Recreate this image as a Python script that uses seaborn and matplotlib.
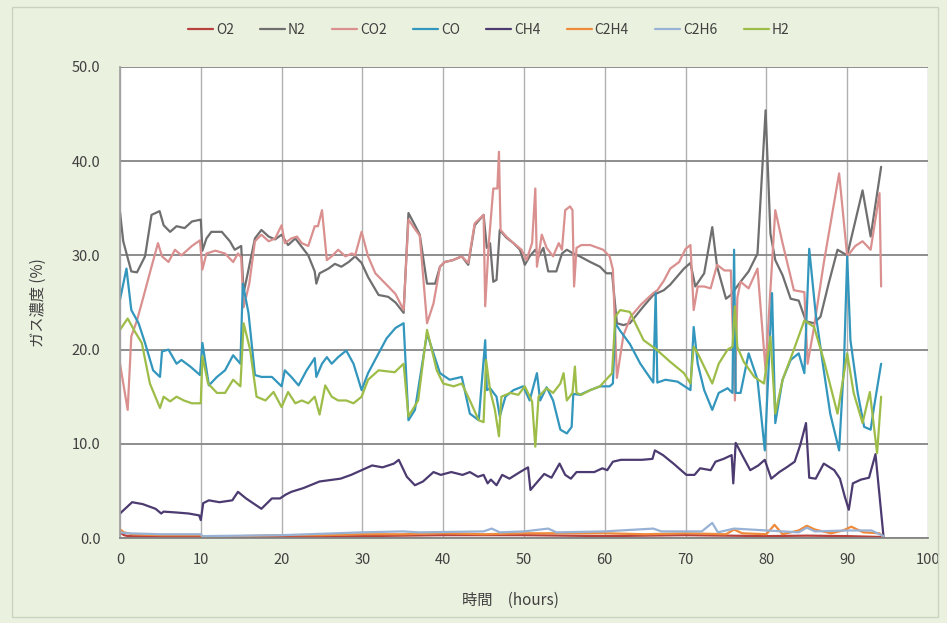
import matplotlib
matplotlib.use("Agg")
import matplotlib.pyplot as plt
from matplotlib.patches import Rectangle
from matplotlib.ticker import FormatStrFormatter, MultipleLocator
import numpy as np
import pandas as pd
import seaborn as sns

# ---- gas concentration readings (time in hours, concentration in %) ----
gases = ["O2", "N2", "CO2", "CO", "CH4", "C2H4", "C2H6", "H2"]

t_O2 = [0.0, 0.5, 1.0, 5.0, 10.0, 10.2, 15.0, 20.0, 25.0, 30.0, 35.0, 40.0, 45.0,
        50.0, 55.0, 60.0, 65.0, 70.0, 75.0, 80.0, 85.0, 90.0, 94.5]
O2 = [0.6, 0.3, 0.2, 0.15, 0.1, 0.05, 0.1, 0.1, 0.15, 0.2, 0.25, 0.3, 0.3,
      0.3, 0.25, 0.2, 0.25, 0.3, 0.25, 0.2, 0.25, 0.2, 0.1]

t_N2 = [0.0, 0.4, 1.4, 2.1, 3.1, 3.9, 4.9, 5.4, 6.2, 7.0, 8.0, 8.9, 10.0, 10.2, 10.7,
        11.3, 12.6, 13.6, 14.2, 15.0, 15.3, 16.7, 17.5, 18.4, 19.2, 20.0, 20.8, 21.7,
        22.5, 23.3, 24.1, 24.3, 24.7, 25.8, 26.6, 27.4, 28.3, 29.1, 29.9, 30.7, 32.0,
        33.2, 34.1, 35.1, 35.7, 36.5, 37.1, 38.0, 39.0, 39.6, 40.2, 41.2, 42.3, 43.1,
        43.9, 45.0, 45.4, 45.8, 46.2, 46.6, 47.0, 47.8, 48.7, 49.5, 50.1, 50.7, 51.4,
        51.8, 52.4, 53.0, 54.0, 54.7, 55.3, 56.1, 56.9, 58.2, 59.4, 60.2, 60.9, 61.5,
        62.3, 63.1, 64.8, 66.0, 67.3, 68.1, 69.8, 70.6, 71.2, 72.3, 73.3, 73.9, 75.0,
        75.6, 76.8, 77.8, 78.9, 79.9, 80.5, 81.1, 82.0, 83.0, 84.0, 84.9, 85.9, 86.7,
        87.7, 88.8, 90.0, 91.9, 92.9, 94.2]
N2 = [34.6, 31.5, 28.3, 28.2, 29.9, 34.3, 34.7, 33.2, 32.5, 33.1, 32.9, 33.6, 33.8, 30.5,
      31.8, 32.5, 32.5, 31.5, 30.6, 31.0, 26.0, 31.8, 32.7, 32.0, 31.7, 32.2, 31.1, 31.8,
      30.9, 30.0, 28.3, 27.0, 28.1, 28.6, 29.1, 28.8, 29.3, 29.9, 29.2, 27.7, 25.8,
      25.6, 25.0, 23.9, 34.5, 33.2, 32.2, 27.0, 27.0, 28.8, 29.3, 29.5, 29.9, 29.0,
      33.2, 34.3, 30.8, 31.3, 27.2, 27.4, 32.7, 31.9, 31.3, 30.6, 29.0, 29.9, 30.6,
      29.9, 30.8, 28.3, 28.3, 30.2, 30.6, 30.2, 29.9, 29.3, 28.8, 28.1, 28.1, 22.8,
      22.6, 22.8, 24.6, 25.8, 26.3, 26.9, 28.6, 29.2, 26.7, 28.1, 33.0, 28.8, 25.4,
      25.8, 27.2, 28.3, 30.2, 45.4, 32.3, 29.5, 27.9, 25.4, 25.2, 23.0, 22.8, 23.5,
      27.0, 30.6, 30.0, 36.9, 32.0, 39.4]

t_CO2 = [0.0, 0.95, 1.4, 2.1, 2.9, 3.9, 4.7, 5.2, 6.0, 6.8, 7.6, 8.9, 9.9, 10.2, 10.7,
         11.8, 13.0, 14.0, 14.6, 15.0, 15.3, 16.0, 16.7, 17.5, 18.4, 19.2, 20.0, 20.4,
         21.2, 21.9, 22.5, 23.3, 24.1, 24.5, 25.0, 25.6, 26.2, 27.0, 27.9, 28.7, 29.1,
         29.9, 30.7, 31.6, 32.4, 33.2, 34.1, 35.1, 35.7, 36.5, 37.1, 38.0, 38.8, 39.6,
         40.2, 41.2, 42.3, 43.1, 43.9, 45.0, 45.2, 45.6, 46.2, 46.7, 46.9, 47.1, 47.8,
         48.7, 49.7, 50.3, 51.0, 51.4, 51.6, 52.2, 52.8, 53.6, 54.3, 54.7, 55.1, 55.7,
         56.0, 56.2, 56.5, 57.1, 58.2, 59.8, 60.6, 61.0, 61.5, 62.3, 63.2, 64.5, 66.0,
         66.5, 67.3, 68.1, 69.2, 70.0, 70.6, 71.0, 71.5, 72.3, 73.1, 73.9, 74.8, 75.6,
         76.1, 76.4, 76.8, 77.8, 78.9, 79.9, 80.4, 81.1, 82.0, 83.4, 84.7, 85.1, 85.9,
         87.1, 89.0, 90.0, 91.0, 91.9, 92.9, 94.0, 94.2]
CO2 = [18.5, 13.6, 21.4, 23.1, 25.6, 28.8, 31.3, 29.9, 29.3, 30.6, 30.0, 31.0, 31.6, 28.5,
       30.2, 30.5, 30.2, 29.3, 30.2, 29.8, 24.5, 27.0, 31.5, 32.2, 31.5, 31.8, 33.2, 31.3,
       31.8, 32.0, 31.3, 31.0, 33.1, 33.1, 34.8, 29.5, 29.9, 30.6, 29.9, 30.2, 30.0,
       32.5, 29.9, 28.1, 27.4, 26.7, 25.9, 24.2, 33.8, 32.8, 32.1, 22.8, 24.9, 28.8,
       29.3, 29.5, 29.9, 29.2, 33.4, 34.3, 24.6, 30.8, 37.1, 37.1, 41.0, 32.7, 32.0,
       31.3, 30.6, 29.5, 31.3, 37.1, 28.8, 32.2, 30.8, 29.9, 31.3, 30.6, 34.8, 35.2,
       34.8, 26.7, 30.8, 31.1, 31.1, 30.6, 29.9, 28.5, 17.0, 21.5, 23.5, 24.8, 26.0,
       26.3, 27.3, 28.6, 29.3, 30.7, 31.1, 24.2, 26.7, 26.7, 26.5, 29.0, 28.4, 28.4,
       14.6, 25.5, 27.2, 26.5, 28.6, 17.8, 25.0, 34.8, 31.3, 26.3, 26.1, 18.5, 22.4,
       29.2, 38.7, 29.9, 31.0, 31.5, 30.6, 36.6, 26.7]

t_CO = [0.0, 0.8, 1.4, 2.3, 3.1, 4.1, 4.95, 5.2, 6.0, 7.0, 7.6, 8.7, 9.9, 10.2, 11.0,
        12.0, 13.0, 14.0, 14.9, 15.2, 15.9, 16.7, 17.5, 18.8, 20.0, 20.4, 21.2, 22.1,
        23.1, 24.1, 24.3, 25.0, 25.6, 26.2, 27.0, 28.0, 28.9, 29.9, 30.7, 32.0, 33.0,
        34.1, 35.1, 35.7, 36.5, 38.0, 39.6, 40.8, 42.3, 43.3, 44.4, 45.2, 45.4, 45.8,
        46.6, 47.0, 47.7, 48.7, 49.9, 50.7, 51.6, 52.0, 52.8, 53.6, 54.5, 55.3, 55.9,
        56.1, 56.9, 58.2, 59.4, 60.6, 61.0, 61.3, 61.9, 63.1, 64.4, 66.0, 66.3, 66.5,
        67.5, 69.0, 70.6, 71.0, 71.5, 72.3, 73.3, 74.1, 75.2, 75.8, 76.0, 76.2, 76.8,
        77.8, 78.9, 79.8, 80.7, 81.1, 82.0, 83.0, 84.0, 84.7, 85.3, 86.1, 87.1, 87.9,
        89.0, 89.6, 90.0, 90.4, 91.3, 92.1, 92.9, 93.3, 94.2]
CO = [25.3, 28.6, 24.2, 22.8, 20.7, 17.8, 17.1, 19.8, 20.0, 18.5, 18.9, 18.2, 17.3, 20.7,
      16.2, 17.1, 17.8, 19.4, 18.5, 27.0, 23.9, 17.3, 17.1, 17.1, 16.1, 17.8, 17.1, 16.2,
      17.8, 19.1, 17.1, 18.5, 19.2, 18.5, 19.2, 19.9, 18.5, 15.7, 17.5, 19.6, 21.2,
      22.3, 22.8, 12.5, 13.6, 21.7, 17.5, 16.8, 17.1, 13.2, 12.5, 21.0, 15.7, 15.9,
      15.0, 12.9, 15.0, 15.7, 16.1, 14.6, 17.5, 14.6, 16.0, 14.6, 11.5, 11.1, 11.8,
      15.3, 15.2, 15.7, 16.1, 16.1, 16.4, 22.8, 22.0, 20.6, 18.5, 16.5, 26.0, 16.5,
      16.8, 16.6, 15.7, 22.4, 18.5, 15.7, 13.6, 15.4, 15.9, 15.4, 30.6, 15.4, 15.4,
      19.6, 16.8, 9.3, 26.0, 12.2, 16.8, 18.9, 19.6, 17.5, 30.7, 23.8, 17.8, 13.2,
      9.3, 18.5, 29.9, 21.0, 15.4, 11.8, 11.5, 13.8, 18.5]

t_CH4 = [0.0, 1.5, 2.8, 4.4, 5.1, 5.4, 7.1, 8.5, 9.8, 10.0, 10.3, 11.0, 12.3, 13.9, 14.6,
         15.6, 17.5, 18.8, 19.8, 20.5, 21.2, 22.7, 24.7, 27.3, 28.6, 29.9, 31.2, 32.5,
         33.9, 34.5, 35.5, 36.5, 37.5, 38.8, 39.7, 41.0, 42.4, 43.3, 44.3, 45.0, 45.5,
         45.9, 46.6, 47.3, 48.2, 49.5, 50.5, 50.8, 51.5, 52.5, 53.4, 54.4, 55.1, 55.8,
         56.5, 57.4, 58.7, 59.7, 60.3, 61.0, 62.0, 63.3, 64.6, 65.9, 66.2, 67.2, 68.5,
         70.1, 71.1, 71.8, 73.1, 73.7, 74.7, 75.7, 75.9, 76.2, 77.0, 78.0, 79.0, 79.8,
         80.6, 81.6, 82.5, 83.5, 84.2, 84.9, 85.3, 86.1, 87.1, 88.4, 89.1, 89.7, 90.2,
         90.7, 91.7, 92.7, 93.5, 94.5]
CH4 = [2.6, 3.8, 3.6, 3.1, 2.6, 2.8, 2.7, 2.6, 2.4, 1.9, 3.7, 4.0, 3.8, 4.0, 4.9,
       4.2, 3.1, 4.2, 4.2, 4.6, 4.9, 5.3, 6.0, 6.3, 6.7, 7.2, 7.7, 7.5,
       7.9, 8.3, 6.5, 5.6, 6.0, 7.0, 6.7, 7.0, 6.7, 7.0, 6.5, 6.7, 5.8,
       6.2, 5.6, 6.7, 6.3, 7.0, 7.5, 5.1, 5.8, 6.8, 6.4, 7.9, 6.7, 6.3,
       7.0, 7.0, 7.0, 7.4, 7.2, 8.1, 8.3, 8.3, 8.3, 8.4, 9.3, 8.8, 7.9,
       6.7, 6.7, 7.4, 7.2, 8.1, 8.4, 8.8, 5.8, 10.1, 8.8, 7.2, 7.7, 8.3,
       6.3, 7.0, 7.5, 8.1, 9.9, 12.2, 6.4, 6.3, 7.9, 7.2, 6.3, 4.4, 3.0,
       5.8, 6.2, 6.4, 8.9, 0.1]

t_C2H4 = [0.0, 0.5, 1.5, 5.0, 10.0, 10.2, 15.0, 20.0, 25.0, 30.0, 35.0, 40.0, 45.0,
          50.0, 55.0, 60.0, 65.0, 70.0, 75.0, 76.0, 77.0, 80.0, 81.0, 82.0, 84.0,
          85.0, 86.0, 88.0, 89.5, 90.5, 92.0, 94.0, 94.5]
C2H4 = [0.9, 0.6, 0.4, 0.3, 0.3, 0.1, 0.2, 0.3, 0.3, 0.4, 0.4, 0.5, 0.4,
        0.5, 0.5, 0.5, 0.4, 0.5, 0.4, 0.9, 0.5, 0.4, 1.4, 0.4, 0.8,
        1.3, 0.9, 0.5, 0.8, 1.2, 0.6, 0.5, 0.1]

t_C2H6 = [0.0, 1.0, 5.0, 10.0, 10.2, 20.0, 30.0, 35.0, 37.0, 45.0, 46.0, 47.0, 50.0,
          53.0, 54.0, 60.0, 62.0, 66.0, 67.0, 72.0, 73.3, 74.0, 76.0, 80.0, 84.0,
          85.0, 86.0, 90.0, 93.0, 94.5]
C2H6 = [0.6, 0.5, 0.4, 0.4, 0.2, 0.3, 0.6, 0.7, 0.6, 0.7, 1.0, 0.6, 0.7,
        1.0, 0.6, 0.7, 0.8, 1.0, 0.7, 0.7, 1.6, 0.6, 1.0, 0.8, 0.6,
        1.1, 0.7, 0.8, 0.8, 0.2]

t_H2 = [0.0, 0.95, 1.85, 2.7, 3.7, 4.95, 5.4, 6.2, 7.0, 7.9, 8.9, 10.0, 10.2, 10.9, 12.0,
        13.0, 14.0, 14.9, 15.3, 16.1, 16.9, 18.0, 19.0, 20.0, 20.8, 21.7, 22.5, 23.3,
        24.1, 24.7, 25.4, 26.2, 27.0, 28.0, 28.9, 29.9, 30.7, 32.0, 34.0, 35.1, 35.7,
        36.9, 38.0, 39.2, 40.0, 41.3, 42.3, 43.3, 44.4, 45.0, 45.3, 45.8, 46.4, 46.9,
        47.2, 48.3, 49.3, 50.1, 51.0, 51.4, 51.8, 52.8, 53.6, 54.5, 54.9, 55.3, 56.0,
        56.3, 56.5, 57.1, 58.2, 59.4, 60.9, 61.3, 61.9, 63.1, 64.8, 66.4, 68.1, 69.8,
        70.6, 71.0, 71.5, 73.3, 74.1, 75.2, 75.8, 76.1, 76.4, 77.2, 78.5, 79.7, 80.5,
        81.1, 82.0, 83.4, 84.7, 85.9, 87.1, 88.8, 90.0, 90.8, 91.9, 92.8, 93.7, 94.2]
H2 = [22.1, 23.3, 21.9, 20.7, 16.4, 13.8, 15.0, 14.5, 15.0, 14.6, 14.3, 14.3, 19.3, 16.4,
      15.4, 15.4, 16.8, 16.1, 22.8, 20.0, 15.0, 14.6, 15.5, 13.9, 15.5, 14.3, 14.6, 14.3,
      15.0, 13.1, 16.2, 15.0, 14.6, 14.6, 14.3, 15.0, 16.8, 17.8, 17.6, 18.5, 12.9,
      14.6, 22.1, 17.8, 16.4, 16.1, 16.4, 14.6, 12.5, 12.3, 18.9, 15.7, 13.6, 10.8,
      15.0, 15.4, 15.2, 16.1, 14.5, 9.7, 15.0, 15.9, 15.4, 16.4, 17.5, 14.6, 15.4,
      18.2, 15.4, 15.2, 15.7, 16.1, 17.5, 23.5, 24.2, 24.0, 21.0, 20.0, 18.7, 17.5,
      16.4, 20.3, 19.6, 16.4, 18.5, 20.0, 20.3, 24.6, 20.3, 18.7, 17.1, 16.4, 21.4,
      13.2, 16.8, 20.0, 23.1, 22.4, 18.9, 13.2, 19.6, 15.4, 12.2, 15.5, 9.0, 15.0]

series = {
    "O2": (t_O2, O2), "N2": (t_N2, N2), "CO2": (t_CO2, CO2), "CO": (t_CO, CO),
    "CH4": (t_CH4, CH4), "C2H4": (t_C2H4, C2H4), "C2H6": (t_C2H6, C2H6), "H2": (t_H2, H2),
}

palette = {
    "O2": "#B8403D", "N2": "#6F6F6F", "CO2": "#D9908F", "CO": "#3396BD",
    "CH4": "#4C3B70", "C2H4": "#EE8A3A", "C2H6": "#98B2D6", "H2": "#9DBD48",
}

df = pd.concat(
    [pd.DataFrame({"time": t, "conc": v, "gas": g}) for g, (t, v) in series.items()],
    ignore_index=True,
)

sns.set_theme(style="white")
plt.rcParams["font.family"] = ["Noto Sans CJK JP", "DejaVu Sans"]

bg = "#EBF1DF"
fig = plt.figure(figsize=(9.47, 6.23), dpi=100, facecolor=bg)
ax = fig.add_axes([120 / 947, 85 / 623, 808 / 947, 471 / 623])
ax.set_facecolor("white")

sns.lineplot(data=df, x="time", y="conc", hue="gas", hue_order=gases,
             palette=palette, sort=False, estimator=None, linewidth=1.6,
             ax=ax, legend=True)

ax.set_xlim(0, 100)
ax.set_ylim(0, 50)
ax.xaxis.set_major_locator(MultipleLocator(10))
ax.yaxis.set_major_locator(MultipleLocator(10))
ax.yaxis.set_major_formatter(FormatStrFormatter("%.1f"))

# gridlines: darker horizontals, lighter verticals
ax.set_axisbelow(True)
ax.grid(axis="y", color="#858585", linewidth=1.3)
ax.grid(axis="x", color="#B0B0B0", linewidth=1.0)
for side in ["top", "right"]:
    ax.spines[side].set_visible(False)
ax.spines["left"].set_color("#A0A0A0")
ax.spines["bottom"].set_color("#858585")
ax.spines["bottom"].set_linewidth(1.3)

ax.tick_params(axis="both", length=0, labelsize=10.5, colors="#404040")
ax.tick_params(axis="y", pad=14)
ax.tick_params(axis="x", pad=11)

ax.set_xlabel("時間\u3000(hours)", fontsize=11, color="#404040")
ax.set_ylabel("ガス濃度 (%)", fontsize=11, color="#404040")
ax.xaxis.set_label_coords(0.483, -0.115)
ax.yaxis.set_label_coords(-0.090, 0.5)

handles, labels = ax.get_legend_handles_labels()
ax.get_legend().remove()
fig.legend(handles, labels, loc="center", bbox_to_anchor=(0.516, 0.952), ncol=8,
           frameon=False, fontsize=10, handlelength=1.8, handletextpad=0.2,
           columnspacing=1.9, labelcolor="#404040")

# chart area border
fig.patches.append(Rectangle((12 / 947, 6 / 623), 926 / 947, 610 / 623,
                             transform=fig.transFigure, fill=False,
                             edgecolor="#C9D3BE", linewidth=1.0))

fig.savefig("out.png", dpi=100, facecolor=bg)
